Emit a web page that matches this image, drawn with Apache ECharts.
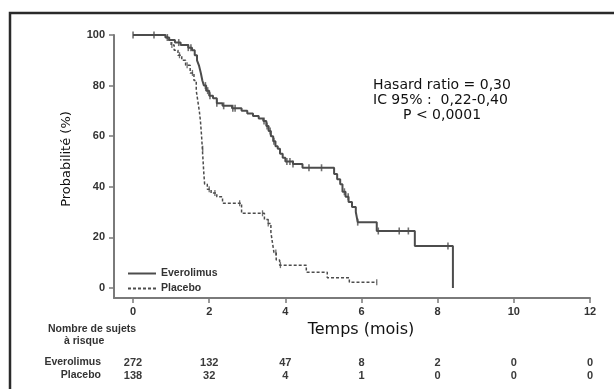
<!DOCTYPE html>
<html>
<head>
<meta charset="utf-8">
<script src="https://cdn.jsdelivr.net/npm/echarts@6/dist/echarts.min.js"></script>
<style>
  html, body { margin: 0; padding: 0; background: #fff; }
  #KmChart { width: 614px; height: 389px; }
</style>
</head>
<body>
<div id="KmChart"></div>
<script>
// Kaplan-Meier curves (time in months, survival in %)
const everoTime = [0, 0.85, 0.95, 1.1, 1.25, 1.45, 1.55, 1.62, 1.68, 1.73, 1.78, 1.82, 1.86, 1.92, 2.0, 2.1, 2.2, 2.35, 2.6, 2.85, 3.0, 3.15, 3.3, 3.42, 3.5, 3.56, 3.62, 3.68, 3.74, 3.8, 3.86, 3.93, 4.0, 4.2, 4.45, 5.28, 5.36, 5.44, 5.5, 5.58, 5.66, 5.75, 5.85, 5.9, 6.4, 7.4, 8.4];
const everoSurv = [100, 99, 98, 97, 96, 95, 94, 92, 90, 88, 85, 82, 80, 78, 76, 75, 73, 72, 71, 70, 69, 68, 67, 66, 64, 62, 60, 58, 56, 55, 53, 51.5, 50, 49, 47.5, 45, 43, 41, 38, 36, 34, 32, 30, 26, 22.5, 16.6, 0];
const everoCensor = [0, 0.55, 0.9, 1.2, 1.45, 1.52, 1.9, 1.96, 2.02, 2.2, 2.38, 2.62, 2.68, 3.44, 3.52, 3.6, 3.7, 4.04, 4.12, 4.2, 4.62, 4.95, 5.55, 5.65, 5.9, 6.44, 6.99, 7.23, 8.27];

const placeboTime = [0, 0.9, 1.0, 1.08, 1.18, 1.28, 1.38, 1.5, 1.6, 1.66, 1.7, 1.74, 1.77, 1.8, 1.82, 1.84, 1.86, 1.88, 1.95, 2.05, 2.2, 2.35, 2.85, 3.45, 3.55, 3.62, 3.66, 3.7, 3.76, 3.85, 4.55, 5.1, 5.68, 6.4];
const placeboSurv = [100, 98, 96, 94, 92, 90, 88, 85, 82, 78, 74, 70, 66, 60, 55, 50, 45, 41, 39, 37.5, 36, 33.5, 29.5, 27, 25.5, 22, 18, 14, 11, 9, 6.2, 4, 2.2, 2.2];
const placeboCensor = [1.02, 1.22, 1.42, 1.56, 1.83, 2.0, 2.15, 2.8, 3.4, 3.55, 3.75, 3.87, 6.4];

// axis ticks and number at risk
const timeTicks = [0, 2, 4, 6, 8, 10, 12];
const probTicks = [0, 20, 40, 60, 80, 100];
const riskEvero = [272, 132, 47, 8, 2, 0, 0];
const riskPlacebo = [138, 32, 4, 1, 0, 0, 0];

const statLines = ["Hasard ratio = 0,30", "IC 95% :  0,22-0,40", "P < 0,0001"];

const curveColor = "#4c4c4c";
const axisColor = "#7a7a7a";
const boldFont = "'Liberation Sans', Arial, sans-serif";
const plainFont = "'DejaVu Sans', Verdana, sans-serif";

function survAt(times, surv, t) {
  let s = surv[0];
  for (let i = 0; i < times.length; i++) {
    if (times[i] <= t) s = surv[i];
  }
  return s;
}

function riskAxis(values, offset) {
  return {
    type: "value",
    position: "bottom",
    min: -0.5,
    max: 12,
    offset: offset,
    axisLine: { show: false, onZero: false },
    axisTick: { show: false },
    splitLine: { show: false },
    axisLabel: {
      customValues: timeTicks,
      margin: 2,
      color: "#3a3a3a",
      fontFamily: boldFont,
      fontWeight: "bold",
      fontSize: 11,
      formatter: (v) => String(values[timeTicks.indexOf(v)])
    }
  };
}

const KmChart = echarts.init(document.getElementById("KmChart"));
KmChart.setOption({
  animation: false,
  backgroundColor: "#fff",
  grid: { left: 114, right: 24, top: 35, bottom: 91, containLabel: false },
  legend: {
    data: ["Everolimus", "Placebo"],
    orient: "vertical",
    left: 122,
    top: 263,
    itemWidth: 28,
    itemHeight: 10,
    itemGap: 4,
    itemStyle: { opacity: 0 },
    textStyle: { color: "#333", fontFamily: boldFont, fontWeight: "bold", fontSize: 10.5 }
  },
  xAxis: [
    {
      type: "value",
      min: -0.5,
      max: 12,
      name: "Temps (mois)",
      nameLocation: "middle",
      nameGap: 22,
      nameTextStyle: { color: "#111", fontFamily: plainFont, fontSize: 16, padding: [0, 0, 0, 18] },
      axisLine: { onZero: false, lineStyle: { color: axisColor, width: 2 } },
      axisTick: { customValues: timeTicks, length: 5, lineStyle: { color: axisColor, width: 1.5 } },
      splitLine: { show: false },
      axisLabel: {
        customValues: timeTicks,
        margin: 8,
        color: "#333",
        fontFamily: boldFont,
        fontWeight: "bold",
        fontSize: 11
      }
    },
    riskAxis(riskEvero, 57),
    riskAxis(riskPlacebo, 70)
  ],
  yAxis: {
    type: "value",
    min: -4,
    max: 100,
    name: "Probabilité (%)",
    nameLocation: "middle",
    nameGap: 41,
    nameTextStyle: { color: "#111", fontFamily: plainFont, fontSize: 13, padding: [0, 0, 0, 15] },
    axisLine: { show: true, onZero: false, lineStyle: { color: axisColor, width: 2 } },
    axisTick: { show: true, customValues: probTicks, length: 5, lineStyle: { color: axisColor, width: 1.5 } },
    splitLine: { show: false },
    axisLabel: {
      customValues: probTicks,
      margin: 9,
      color: "#333",
      fontFamily: boldFont,
      fontWeight: "bold",
      fontSize: 11
    }
  },
  graphic: [
    { type: "rect", shape: { x: 10, y: 13, width: 620, height: 420 }, style: { fill: "none", stroke: "#2a2a2a", lineWidth: 2.5 }, silent: true },
    { type: "text", x: 373, y: 85, style: { text: statLines[0], font: "14px " + plainFont, fill: "#111", verticalAlign: "middle" } },
    { type: "text", x: 373, y: 100.5, style: { text: statLines[1], font: "14px " + plainFont, fill: "#111", verticalAlign: "middle" } },
    { type: "text", x: 403, y: 115.5, style: { text: statLines[2], font: "14px " + plainFont, fill: "#111", verticalAlign: "middle" } },
    { type: "text", x: 48, y: 329, style: { text: "Nombre de sujets", font: "bold 10.5px " + boldFont, fill: "#333", verticalAlign: "middle" } },
    { type: "text", x: 64, y: 341, style: { text: "à risque", font: "bold 10.5px " + boldFont, fill: "#333", verticalAlign: "middle" } },
    { type: "text", x: 101, y: 362, style: { text: "Everolimus", font: "bold 10.5px " + boldFont, fill: "#333", align: "right", verticalAlign: "middle" } },
    { type: "text", x: 101, y: 375, style: { text: "Placebo", font: "bold 10.5px " + boldFont, fill: "#333", align: "right", verticalAlign: "middle" } }
  ],
  series: [
    {
      name: "Everolimus",
      type: "line",
      step: "end",
      showSymbol: false,
      symbol: "none",
      color: curveColor,
      lineStyle: { color: curveColor, width: 2 },
      data: everoTime.map((t, i) => [t, everoSurv[i]])
    },
    {
      name: "Placebo",
      type: "line",
      step: "end",
      showSymbol: false,
      symbol: "none",
      color: curveColor,
      lineStyle: { color: curveColor, width: 1.5, type: [3, 2] },
      data: placeboTime.map((t, i) => [t, placeboSurv[i]])
    },
    {
      name: "Everolimus censure",
      type: "scatter",
      symbol: "rect",
      symbolSize: [1.6, 7],
      itemStyle: { color: curveColor },
      data: everoCensor.map(t => [t, survAt(everoTime, everoSurv, t)])
    },
    {
      name: "Placebo censure",
      type: "scatter",
      symbol: "rect",
      symbolSize: [1.3, 6],
      itemStyle: { color: curveColor },
      data: placeboCensor.map(t => [t, survAt(placeboTime, placeboSurv, t)])
    }
  ]
});
</script>
</body>
</html>
